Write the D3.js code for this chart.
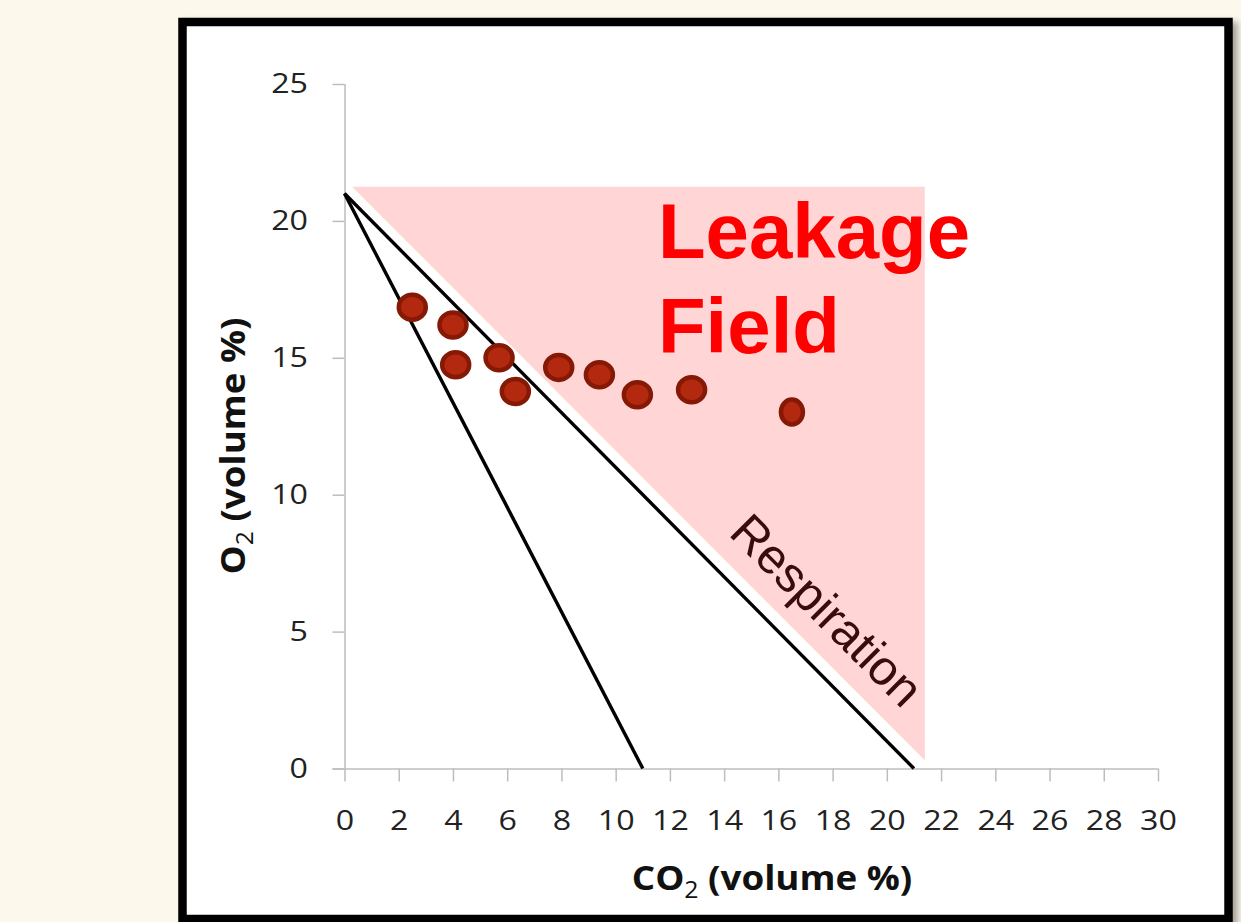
<!DOCTYPE html>
<html>
<head>
<meta charset="utf-8">
<script src="https://cdn.jsdelivr.net/npm/d3@7"></script>
<style>
  html, body { margin: 0; padding: 0; background: #fdf8ec; overflow: hidden; }
  svg { display: block; }
</style>
</head>
<body>
<div id="chart"></div>
<script>
// CO2 (x) / O2 (y) readings, volume %
var co2 = [2.5, 4.0, 4.1, 5.7, 6.3, 7.9, 9.4, 10.8, 12.8, 16.5];
var o2  = [16.85, 16.2, 14.75, 15.0, 13.77, 14.65, 14.38, 13.65, 13.83, 13.02];

var xTicks = [0, 2, 4, 6, 8, 10, 12, 14, 16, 18, 20, 22, 24, 26, 28, 30];
var yTicks = [0, 5, 10, 15, 20, 25];

// boundary lines from ambient air (0, 21)
var lineLow  = [[0, 21], [11, 0]];
var lineResp = [[0, 21], [21, 0]];

// leakage field corners
var leakField = [[0.28, 21.25], [21.4, 21.25], [21.4, 0.3]];

var W = 1241, H = 922;
var stretch = 1.15; // labels in the original look stretched sideways

var svg = d3.select("#chart").append("svg")
  .attr("width", W)
  .attr("height", H);

var defs = svg.append("defs");
var sh = defs.append("filter").attr("id", "shadow")
  .attr("x", "-5%").attr("y", "-5%").attr("width", "115%").attr("height", "115%");
sh.append("feDropShadow").attr("dx", 5).attr("dy", 4).attr("stdDeviation", 3)
  .attr("flood-color", "#000").attr("flood-opacity", 0.35);

// framed white panel
svg.append("rect")
  .attr("x", 182.5).attr("y", 22)
  .attr("width", 1046).attr("height", 897)
  .attr("fill", "#fff")
  .attr("stroke", "#000")
  .attr("stroke-width", 8.5)
  .attr("filter", "url(#shadow)");

var x = d3.scaleLinear().domain([0, 30]).range([344.5, 1158]);
var y = d3.scaleLinear().domain([0, 25]).range([768.5, 84]);

var line = d3.line().x(function(d){ return x(d[0]); }).y(function(d){ return y(d[1]); });

// leakage field
svg.append("path")
  .datum(leakField)
  .attr("d", function(d){ return line(d) + "Z"; })
  .attr("fill", "#ffd5d5");

// axes
var xAxis = svg.append("g")
  .attr("transform", "translate(0," + y(0) + ")")
  .call(d3.axisBottom(x).tickValues(xTicks).tickSize(13).tickPadding(29).tickFormat(d3.format("d")));
var yAxis = svg.append("g")
  .attr("transform", "translate(" + x(0) + ",0)")
  .call(d3.axisLeft(y).tickValues(yTicks).tickSize(12).tickPadding(36.5 / stretch - 12).tickFormat(d3.format("d")));

[xAxis, yAxis].forEach(function(a){
  a.select(".domain").attr("stroke", "#bdbdbd").attr("stroke-width", 1.5);
  a.selectAll(".tick line").attr("stroke", "#bdbdbd").attr("stroke-width", 1.5);
  a.selectAll(".tick text")
    .attr("fill", "#222")
    .attr("transform", "scale(" + stretch + ",1)")
    .style("font-family", "'Open Sans', sans-serif")
    .style("font-size", "28px");
});
// replace path so outer ticks are not drawn at the ends
xAxis.select(".domain").attr("d", "M" + (x(0) - 12) + ",0.5H" + x(30));
yAxis.select(".domain").attr("d", "M0.5," + y(0) + "V" + y(25));

// boundary lines
[lineLow, lineResp].forEach(function(l){
  svg.append("path")
    .datum(l)
    .attr("d", line)
    .attr("fill", "none")
    .attr("stroke", "#000")
    .attr("stroke-width", 3.4);
});

// data points
var pts = co2.map(function(c, i){ return [c, o2[i]]; });
svg.selectAll("ellipse.pt")
  .data(pts)
  .enter()
    .append("ellipse")
    .attr("class", "pt")
    .attr("cx", function(d){ return x(d[0]); })
    .attr("cy", function(d){ return y(d[1]); })
    .attr("rx", function(d, i){ return i == pts.length - 1 ? 11 : 13.5; })
    .attr("ry", 12.5)
    .attr("fill", "#b3290f")
    .attr("stroke", "#851905")
    .attr("stroke-width", 4.5);

// annotations
var leakLabel = { x: 11.56, y: 18.65, lines: ["Leakage", "Field"] };
svg.append("text")
  .attr("x", x(leakLabel.x))
  .attr("y", y(leakLabel.y))
  .attr("fill", "#ff0000")
  .style("font-family", "'Liberation Sans', Arial, sans-serif")
  .style("font-weight", "bold")
  .style("font-size", "78px")
  .selectAll("tspan")
  .data(leakLabel.lines)
  .enter()
    .append("tspan")
    .attr("x", x(leakLabel.x))
    .attr("dy", function(d, i){ return i ? 95 : 0; })
    .text(function(d){ return d; });

var respLabel = { x: 14.12, y: 8.55, text: "Respiration" };
svg.append("text")
  .attr("transform", "translate(" + x(respLabel.x) + "," + y(respLabel.y) + ") rotate(45)")
  .attr("fill", "#3a0b0b")
  .style("font-family", "'Liberation Sans', Arial, sans-serif")
  .style("font-size", "49px")
  .text(respLabel.text);

// axis titles
function title(sel, main){
  sel.attr("text-anchor", "middle")
    .attr("fill", "#111")
    .style("font-family", "'Open Sans', sans-serif")
    .style("font-weight", "bold")
    .style("font-size", "34px");
  sel.append("tspan").text(main);
  sel.append("tspan").attr("dy", 8).style("font-size", "23px").style("font-weight", "normal").text("2");
  sel.append("tspan").attr("dy", -8).text(" (volume %)");
}
title(svg.append("text").attr("transform", "translate(772,890) scale(1.08,1)"), "CO");
title(svg.append("text").attr("transform", "translate(245,446) rotate(-90) scale(1.08,1)"), "O");
</script>
</body>
</html>
